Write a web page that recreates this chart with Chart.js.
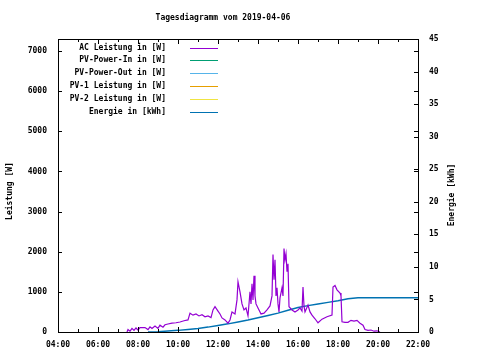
<!DOCTYPE html>
<html>
<head>
<meta charset="utf-8">
<script src="https://cdn.jsdelivr.net/npm/chart.js@4/dist/chart.umd.min.js"></script>
<style>
html,body{margin:0;padding:0;background:#fff;}
#wrap{width:480px;height:360px;}
</style>
</head>
<body>
<div id="wrap"><canvas id="c" width="480" height="360"></canvas></div>
<script>
const titleText = "Tagesdiagramm vom 2019-04-06";
const seriesLabels = ["AC Leistung in [W]","PV-Power-In in [W]","PV-Power-Out in [W]","PV-1 Leistung in [W]","PV-2 Leistung in [W]","Energie in [kWh]"];
const seriesColors = ["#9400d3","#009e73","#56b4e9","#e69f00","#f0e442","#0072b2"];
const yTitle = "Leistung [W]";
const y2Title = "Energie [kWh]";

const acHours = [7.45,7.5,7.6,7.7,7.8,7.9,8.0,8.1,8.35,8.5,8.6,8.7,8.85,9.0,9.1,9.25,9.35,9.5,9.7,9.9,10.1,10.3,10.5,10.6,10.75,10.9,11.05,11.2,11.35,11.5,11.65,11.75,11.85,12.0,12.1,12.2,12.35,12.5,12.6,12.7,12.85,12.95,13.0,13.1,13.2,13.3,13.4,13.5,13.6,13.65,13.7,13.75,13.8,13.85,13.9,14.0,14.15,14.3,14.45,14.6,14.7,14.75,14.8,14.85,14.9,14.95,15.0,15.05,15.1,15.2,15.25,15.3,15.35,15.4,15.45,15.5,15.55,15.7,15.85,16.0,16.1,16.2,16.25,16.3,16.35,16.5,16.6,16.7,16.85,17.0,17.2,17.45,17.7,17.75,17.85,17.95,18.1,18.15,18.2,18.35,18.5,18.65,18.8,18.95,19.1,19.25,19.35,19.5,19.65,19.8,19.95,20.1];
const acWatts = [0,60,20,90,40,100,50,110,110,60,130,90,150,90,170,120,180,200,220,230,250,280,300,470,420,450,400,430,380,400,360,550,630,520,450,350,300,220,300,500,450,800,1250,1000,700,550,600,400,1000,700,1200,800,1400,900,700,600,450,470,550,650,900,1930,1300,1800,900,1100,700,500,850,1100,900,2080,1800,1950,1500,1700,630,550,500,550,600,520,1120,650,500,670,500,420,330,230,320,380,420,1120,1160,1050,970,900,255,240,240,290,270,290,220,170,60,40,50,20,30,0];

const energyHours = [8.5,9.0,9.5,10.0,10.5,11.0,11.5,12.0,12.5,13.0,13.5,14.0,14.5,15.0,15.5,16.0,16.5,17.0,17.5,18.0,18.5,19.0,19.5,20.0,21.0,22.0];
const energyKwh = [0,0.05,0.15,0.25,0.4,0.55,0.75,1.0,1.25,1.55,1.85,2.2,2.55,2.9,3.35,3.75,4.05,4.3,4.55,4.8,5.1,5.25,5.25,5.25,5.25,5.25];

const yTickValues = [0,1000,2000,3000,4000,5000,6000,7000];

const xMin = 4, xMax = 22, yMax = 7300, y2Max = 45;

const FONT = "DejaVu Sans Mono";
const fontSpec = {family: FONT, size: 8, weight: 'bold'};
const cssFont = "bold 8px '" + FONT + "'";

function pts(xs, ys){ return xs.map((x,i)=>({x:x, y:ys[i]})); }

const datasets = seriesLabels.map((lab,i)=>({
  label: lab,
  data: [],
  borderColor: seriesColors[i],
  backgroundColor: seriesColors[i],
  borderWidth: 1.2,
  pointRadius: 0,
  tension: 0,
  fill: false,
  yAxisID: 'y'
}));
datasets[0].data = pts(acHours, acWatts);
datasets[5].data = pts(energyHours, energyKwh);
datasets[5].yAxisID = 'y2';
datasets[5].borderWidth = 1.5;

const decor = {
  id: 'decor',
  afterDraw(chart){
    const ctx = chart.ctx, a = chart.chartArea;
    const sx = chart.scales.x, sy = chart.scales.y, sy2 = chart.scales.y2;
    ctx.save();
    ctx.strokeStyle = '#000';
    ctx.lineWidth = 1;
    ctx.strokeRect(Math.round(a.left)+0.5, Math.round(a.top)+0.5, Math.round(a.right-a.left), Math.round(a.bottom-a.top));
    ctx.beginPath();
    for(let h=xMin; h<=xMax; h++){
      const px = Math.round(sx.getPixelForValue(h))+0.5;
      const len = (h%2===0)?5:3;
      ctx.moveTo(px, a.bottom); ctx.lineTo(px, a.bottom-len);
      ctx.moveTo(px, a.top); ctx.lineTo(px, a.top+len);
    }
    yTickValues.forEach(v=>{
      const py = Math.round(sy.getPixelForValue(v))+0.5;
      ctx.moveTo(a.left, py); ctx.lineTo(a.left+4, py);
      ctx.moveTo(a.right, py); ctx.lineTo(a.right-4, py);
    });
    sy2.ticks.forEach(t=>{
      const py = Math.round(sy2.getPixelForValue(t.value))+0.5;
      ctx.moveTo(a.right, py); ctx.lineTo(a.right-4, py);
    });
    ctx.stroke();

    ctx.fillStyle = '#000';
    ctx.font = cssFont;
    ctx.textBaseline = 'middle';
    // left tick labels
    ctx.textAlign = 'right';
    yTickValues.forEach(v=>{
      ctx.fillText(String(v), a.left - 11, sy.getPixelForValue(v));
    });

    ctx.textAlign = 'center';
    ctx.fillText(titleText, 223, 18);

    ctx.save();
    ctx.translate(10, 191);
    ctx.rotate(-Math.PI/2);
    ctx.fillText(yTitle, 0, 0);
    ctx.restore();
    ctx.save();
    ctx.translate(452, 195);
    ctx.rotate(-Math.PI/2);
    ctx.fillText(y2Title, 0, 0);
    ctx.restore();

    ctx.textAlign = 'right';
    chart.data.datasets.forEach((ds,i)=>{
      const yy = 47.5 + i*12.9;
      ctx.fillStyle = '#000';
      ctx.fillText(ds.label, 166, yy);
      ctx.strokeStyle = ds.borderColor;
      ctx.lineWidth = 1;
      ctx.beginPath();
      ctx.moveTo(190, Math.round(yy)+0.5);
      ctx.lineTo(218, Math.round(yy)+0.5);
      ctx.stroke();
    });
    ctx.restore();
  }
};

new Chart(document.getElementById('c'), {
  type: 'line',
  data: { datasets: datasets },
  options: {
    responsive: false,
    animation: false,
    layout: { padding: { top: 39, left: 0, right: 0, bottom: 0 } },
    plugins: { legend: { display: false }, tooltip: { enabled: false }, title: { display: false } },
    scales: {
      x: {
        type: 'linear', min: xMin, max: xMax,
        grid: { display: false, drawTicks: false },
        border: { display: false },
        ticks: { stepSize: 2, color: '#000', font: fontSpec, padding: 8, maxRotation: 0, autoSkip: false,
          callback: v => String(v).padStart(2,'0') + ':00' },
        afterFit: s => { s.height = 28; }
      },
      y: {
        type: 'linear', position: 'left', min: 0, max: yMax,
        grid: { display: false, drawTicks: false },
        border: { display: false },
        ticks: { display: false, stepSize: 1000 },
        afterFit: s => { s.width = 58; }
      },
      y2: {
        type: 'linear', position: 'right', min: 0, max: y2Max,
        grid: { display: false, drawTicks: false, drawOnChartArea: false },
        border: { display: false },
        ticks: { stepSize: 5, autoSkip: false, color: '#000', font: fontSpec, padding: 11 },
        afterFit: s => { s.width = 62; }
      }
    }
  },
  plugins: [decor]
});
</script>
</body>
</html>
